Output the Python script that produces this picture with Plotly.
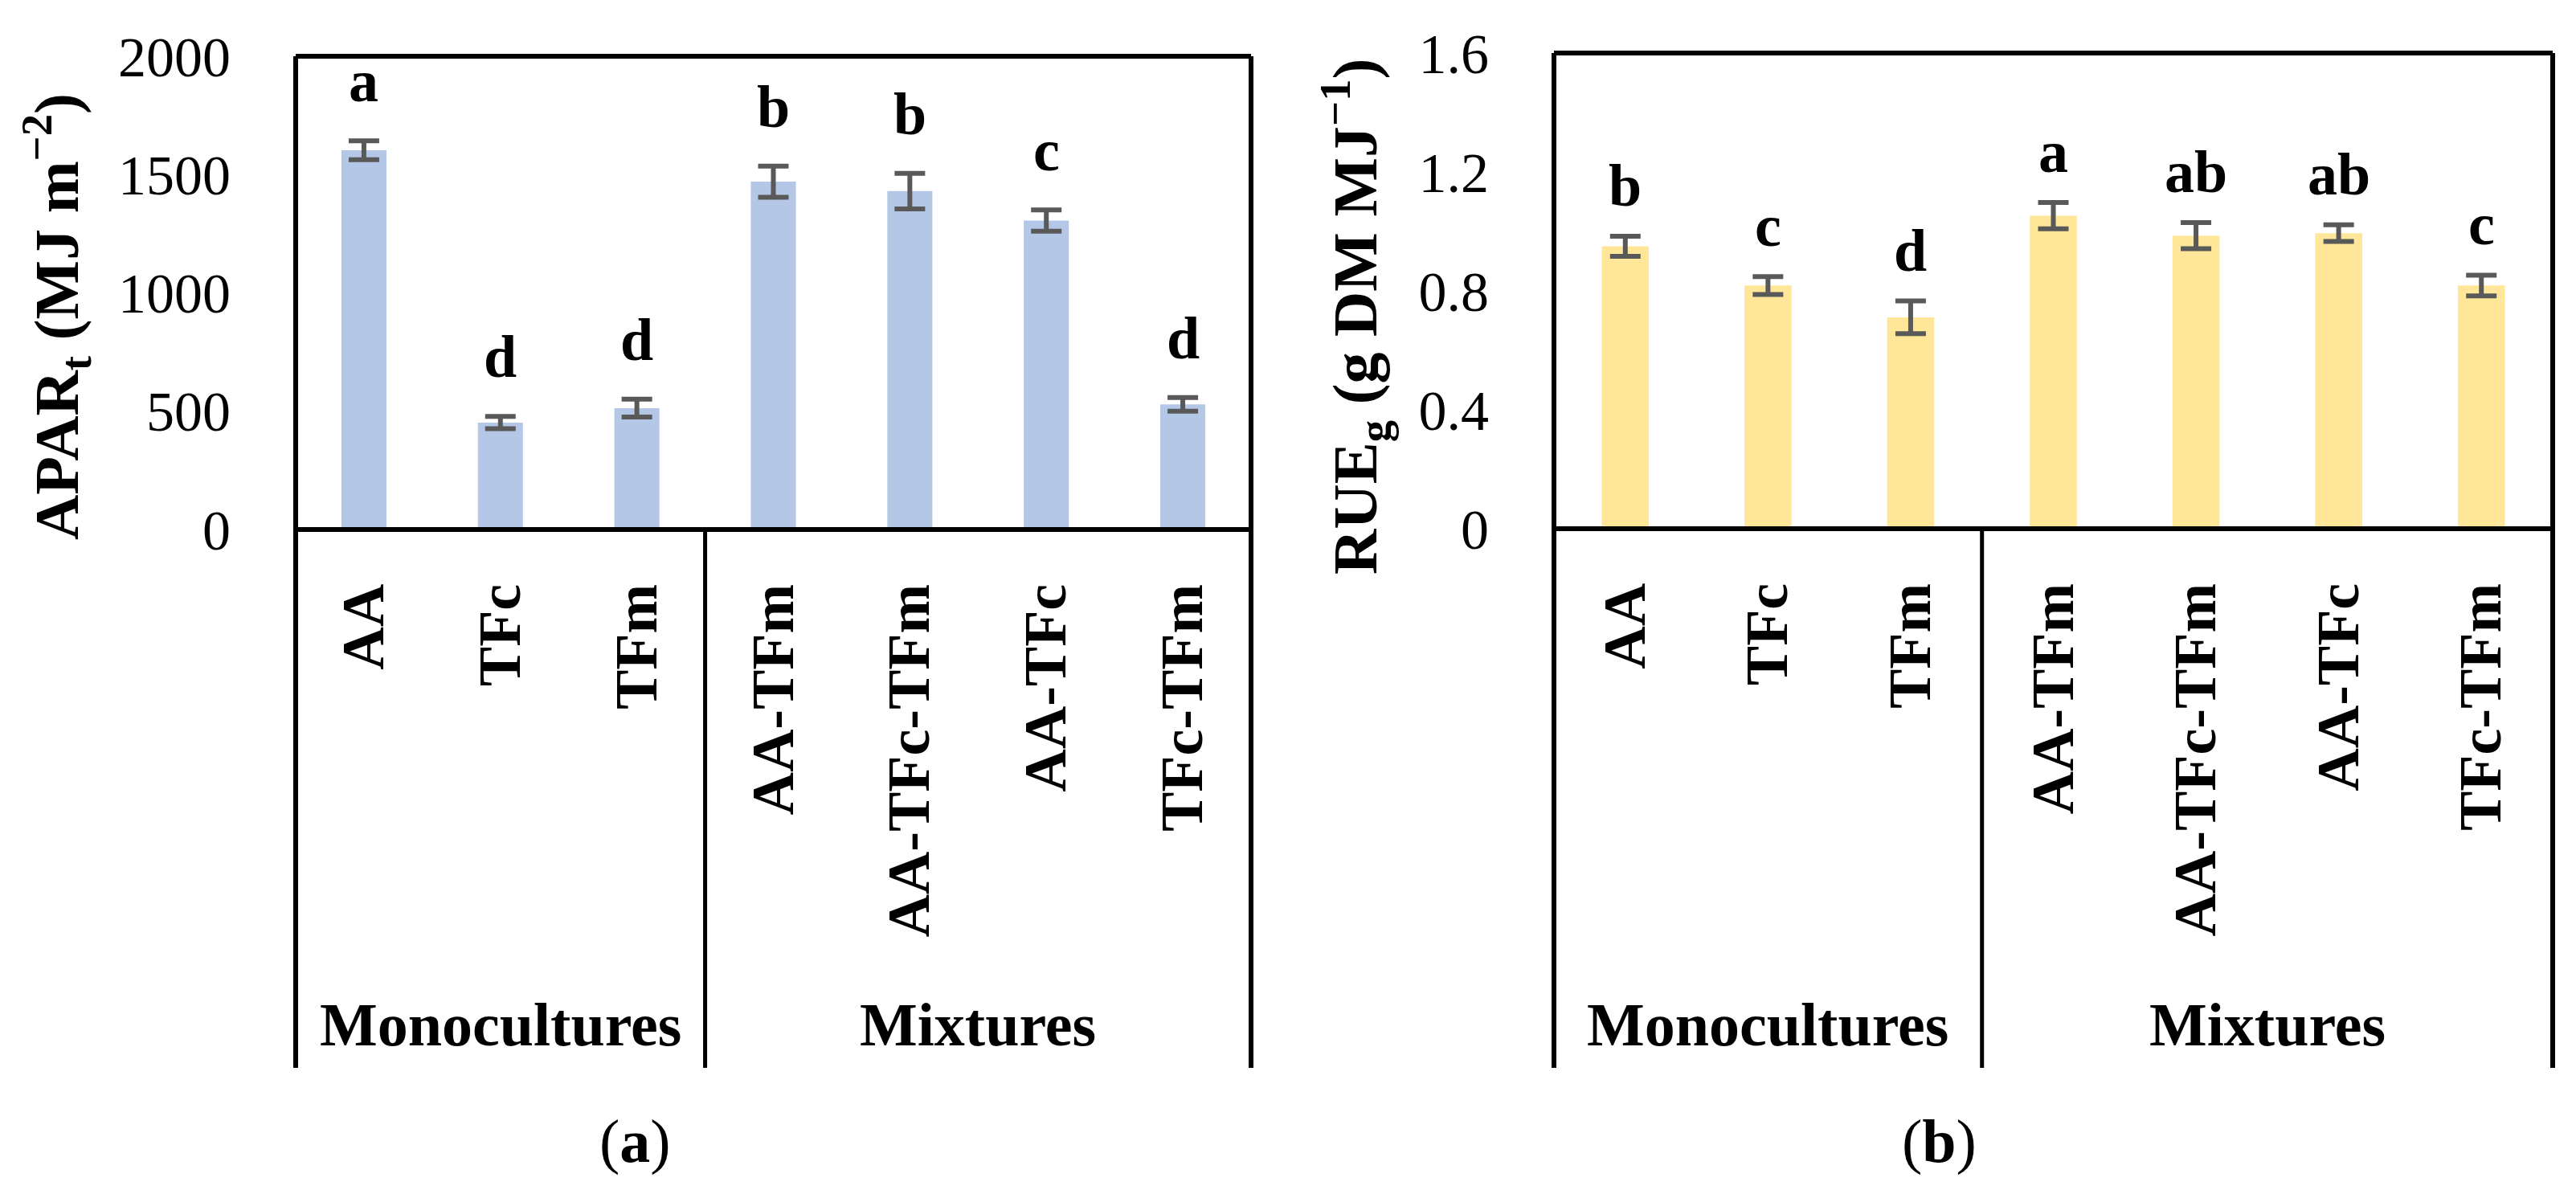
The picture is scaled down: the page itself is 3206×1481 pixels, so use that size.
import plotly.graph_objects as go

categories = ["AA", "TFc", "TFm", "AA-TFm", "AA-TFc-TFm", "AA-TFc", "TFc-TFm"]
groups = ["Monocultures", "Mixtures"]

apar = [1603, 452, 513, 1470, 1430, 1306, 529]
apar_err = [40, 26, 38, 66, 75, 45, 29]
apar_letters = ["a", "d", "d", "b", "b", "c", "d"]

rue = [0.950, 0.818, 0.711, 1.053, 0.986, 0.994, 0.818]
rue_err = [0.034, 0.030, 0.055, 0.044, 0.044, 0.028, 0.035]
rue_letters = ["b", "c", "d", "a", "ab", "ab", "c"]

W, H = 3206, 1481
FONT = "Liberation Serif"


def px_x(p):
    return p / W


def px_y(p):
    return 1 - p / H


# panel boxes in pixels: left, right, top, zero line, bottom of frame
panels = [
    dict(l=360, r=1549, t=62, z=651, b=1321, x="x", y="y", xa="xaxis", ya="yaxis",
         vals=apar, err=apar_err, letters=apar_letters, color="#B4C7E7",
         rng=[0, 2000], dt=500, title="APAR<sub>t</sub> (MJ m<sup>\u22122</sup>)",
         tx=62, tag="(<b>a</b>)", tagx=782, gap=31),
    dict(l=1926, r=3169, t=58, z=650, b=1321, x="x2", y="y2", xa="xaxis2", ya="yaxis2",
         vals=rue, err=rue_err, letters=rue_letters, color="#FFE699",
         rng=[0, 1.6], dt=0.4, title="RUE<sub>g</sub> (g DM MJ<sup>\u22121</sup>)",
         tx=1678, tag="(<b>b</b>)", tagx=2405, gap=20),
]

fig = go.Figure()
shapes = []
annotations = []
layout = {}

for p in panels:
    fig.add_trace(go.Bar(
        x=categories, y=p["vals"], xaxis=p["x"], yaxis=p["y"],
        marker=dict(color=p["color"], line=dict(width=0)), width=0.33,
        error_y=dict(type="data", array=p["err"], visible=True,
                     color="#595959", thickness=6, width=19),
        showlegend=False,
    ))
    layout[p["xa"]] = dict(
        domain=[px_x(p["l"]), px_x(p["r"])], anchor=p["y"],
        tickangle=-90, ticks="", ticklabelstandoff=52,
        tickfont=dict(family=FONT, size=74, color="black"),
        tickprefix="<b>", ticksuffix="</b>",
        showline=False, showgrid=False, zeroline=False,
    )
    layout[p["ya"]] = dict(
        domain=[px_y(p["z"]), px_y(p["t"])], anchor=p["x"],
        range=p["rng"], dtick=p["dt"], ticks="", ticklabelstandoff=80,
        tickfont=dict(family=FONT, size=70, color="black"),
        showline=False, showgrid=False, zeroline=False,
    )
    line = dict(color="black", width=6)
    # frame: top, zero line, left, right, group separator
    shapes += [
        dict(type="line", xref="paper", yref="paper", x0=px_x(p["l"]), x1=px_x(p["r"]),
             y0=px_y(p["t"]), y1=px_y(p["t"]), line=line),
        dict(type="line", xref="paper", yref="paper", x0=px_x(p["l"]), x1=px_x(p["r"]),
             y0=px_y(p["z"]), y1=px_y(p["z"]), line=line),
        dict(type="line", xref="paper", yref="paper", x0=px_x(p["l"]), x1=px_x(p["l"]),
             y0=px_y(p["t"]), y1=px_y(p["b"]), line=line),
        dict(type="line", xref="paper", yref="paper", x0=px_x(p["r"]), x1=px_x(p["r"]),
             y0=px_y(p["t"]), y1=px_y(p["b"]), line=line),
    ]
    sep = p["l"] + (p["r"] - p["l"]) * 3 / 7
    shapes.append(dict(type="line", xref="paper", yref="paper", x0=px_x(sep), x1=px_x(sep),
                       y0=px_y(p["z"]), y1=px_y(p["b"]), line=dict(color="black", width=5)))

    # significance letters
    for c, v, e, t in zip(categories, p["vals"], p["err"], p["letters"]):
        annotations.append(dict(x=c, y=v + e, xref=p["x"], yref=p["y"], text="<b>%s</b>" % t,
                                showarrow=False, xanchor="center", yanchor="bottom",
                                yshift=p["gap"],
                                font=dict(family=FONT, size=74, color="black")))
    # group labels
    for g, (a, b) in zip(groups, [(p["l"], sep), (sep, p["r"])]):
        annotations.append(dict(x=px_x((a + b) / 2), y=px_y(1267), xref="paper", yref="paper",
                                text="<b>%s</b>" % g, showarrow=False,
                                xanchor="center", yanchor="middle",
                                font=dict(family=FONT, size=76, color="black")))
    # y axis title
    annotations.append(dict(x=px_x(p["tx"]), y=px_y(386), xref="paper", yref="paper",
                            text="<b>%s</b>" % p["title"], textangle=-90, showarrow=False,
                            xanchor="center", yanchor="middle",
                            font=dict(family=FONT, size=78, color="black")))
    # panel tag
    annotations.append(dict(x=px_x(p["tagx"]), y=px_y(1412), xref="paper", yref="paper",
                            text=p["tag"], showarrow=False,
                            xanchor="center", yanchor="middle",
                            font=dict(family=FONT, size=76, color="black")))

fig.update_layout(
    width=W, height=H, margin=dict(l=0, r=0, t=0, b=0, autoexpand=False),
    paper_bgcolor="white", plot_bgcolor="white",
    shapes=shapes, annotations=annotations, bargap=0.67, **layout,
)

fig.write_html("out.html")
